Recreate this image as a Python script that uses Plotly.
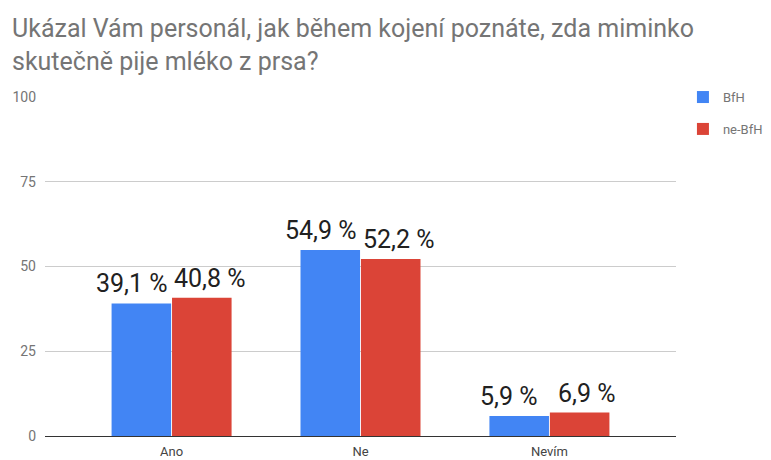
import plotly.graph_objects as go

categories = ["Ano", "Ne", "Nevím"]
bfh = [39.1, 54.9, 5.9]
ne_bfh = [40.8, 52.2, 6.9]
series_names = ["BfH", "ne-BfH"]
y_ticks = [0, 25, 50, 75, 100]
title = "Ukázal Vám personál, jak během kojení poznáte, zda miminko<br>skutečně pije mléko z prsa?"

colors = ["#4285f4", "#db4437"]
label_shift = [-40, 38]  # px offsets of value labels from category centre

fig = go.Figure()
for name, vals, c in zip(series_names, [bfh, ne_bfh], colors):
    fig.add_trace(go.Bar(
        x=categories, y=vals, name=name, legendgroup=name,
        marker=dict(color=c, line=dict(width=0)),
        hoverinfo="skip",
    ))

for vals, dx in zip([bfh, ne_bfh], label_shift):
    for cat, v in zip(categories, vals):
        fig.add_annotation(
            x=cat, y=v, xref="x", yref="y", xshift=dx, yshift=3,
            text=f"{v:.1f} %".replace(".", ","), showarrow=False,
            xanchor="center", yanchor="bottom",
            font=dict(family="Roboto", size=25, color="#212121"),
        )

fig.add_annotation(
    text=title, xref="paper", yref="paper", x=-0.0555, y=1.251,
    xanchor="left", yanchor="top", align="left", showarrow=False,
    font=dict(family="Roboto", size=25, color="#757575"),
)

fig.update_layout(
    template="none",
    width=755, height=452,
    barmode="group", bargap=0.36, bargroupgap=0.015,
    plot_bgcolor="white", paper_bgcolor="white",
    margin=dict(l=37, r=87, t=89, b=24, autoexpand=False),
    font=dict(family="Roboto", color="#757575", size=13),
    legend=dict(x=1.011, y=1.044, xanchor="left", yanchor="top",
                font=dict(size=13, color="#757575"), itemwidth=30,
                tracegroupgap=12, bgcolor="rgba(0,0,0,0)"),
    showlegend=True,
    xaxis=dict(range=[-0.67, 2.67], showgrid=False, ticks="", showline=False,
               zeroline=False, automargin=False, ticklabelstandoff=6,
               tickfont=dict(size=13, color="#444444")),
    yaxis=dict(range=[0, 100], tickvals=y_ticks, gridcolor="#cccccc",
               showline=False, automargin=False,
               zeroline=True, zerolinecolor="#333333", zerolinewidth=1,
               tickfont=dict(size=14, color="#757575"), ticks="",
               ticklabelstandoff=8),
)
fig.write_html("out.html")
